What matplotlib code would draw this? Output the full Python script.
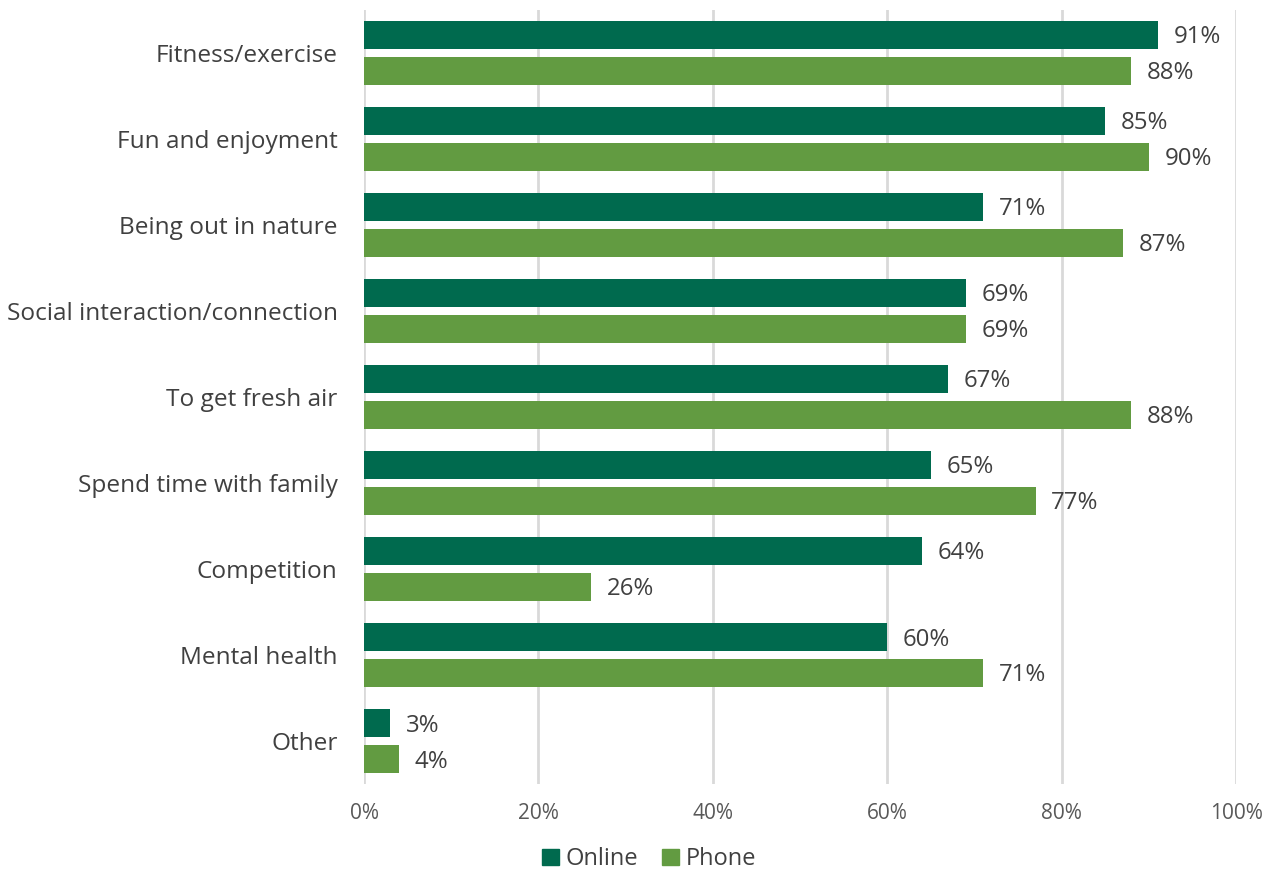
import numpy as np
import matplotlib.pyplot as plt
from matplotlib.patches import Patch

plt.rcParams['font.family'] = ['Open Sans', 'DejaVu Sans']

categories = ['Fitness/exercise', 'Fun and enjoyment', 'Being out in nature',
              'Social interaction/connection', 'To get fresh air',
              'Spend time with family', 'Competition', 'Mental health', 'Other']
online = [91, 85, 71, 69, 67, 65, 64, 60, 3]
phone = [88, 90, 87, 69, 88, 77, 26, 71, 4]

c_online = '#006a4e'
c_phone = '#629b41'

fig = plt.figure(figsize=(12.73, 8.74), dpi=100)
ax = fig.add_axes([0.286, 0.103, 0.685, 0.886])

y = np.arange(len(categories))
h = 0.326
off = 0.209
b1 = ax.barh(y - off, online, height=h, color=c_online, zorder=3)
b2 = ax.barh(y + off, phone, height=h, color=c_phone, zorder=3)

for bars, vals in ((b1, online), (b2, phone)):
    for bar, v in zip(bars, vals):
        ax.text(v + 1.8, bar.get_y() + bar.get_height() / 2 + 0.03, f'{v}%',
                va='center', ha='left', fontsize=17.3, color='#404040')

ax.set_xlim(0, 100)
ax.set_ylim(len(categories) - 0.5, -0.5)
ax.set_xticks(range(0, 101, 20))
ax.set_xticklabels([f'{t}%' for t in range(0, 101, 20)])
ax.set_yticks(y)
ax.set_yticklabels(categories)
ax.tick_params(axis='x', length=0, labelsize=15, labelcolor='#595959', pad=14)
ax.tick_params(axis='y', length=0, labelsize=17.6, labelcolor='#404040', pad=19)
ax.xaxis.grid(True, color='#d9d9d9', linewidth=2, zorder=0)
for s in ax.spines.values():
    s.set_visible(False)

handles = [Patch(color=c_online, label='Online'), Patch(color=c_phone, label='Phone')]
fig.legend(handles=handles, loc='center', bbox_to_anchor=(0.51, 0.017), ncol=2,
           frameon=False, fontsize=17, handlelength=0.7, handleheight=0.7,
           handletextpad=0.3, columnspacing=1.0, labelcolor='#404040')

fig.savefig('out.png', dpi=100)
